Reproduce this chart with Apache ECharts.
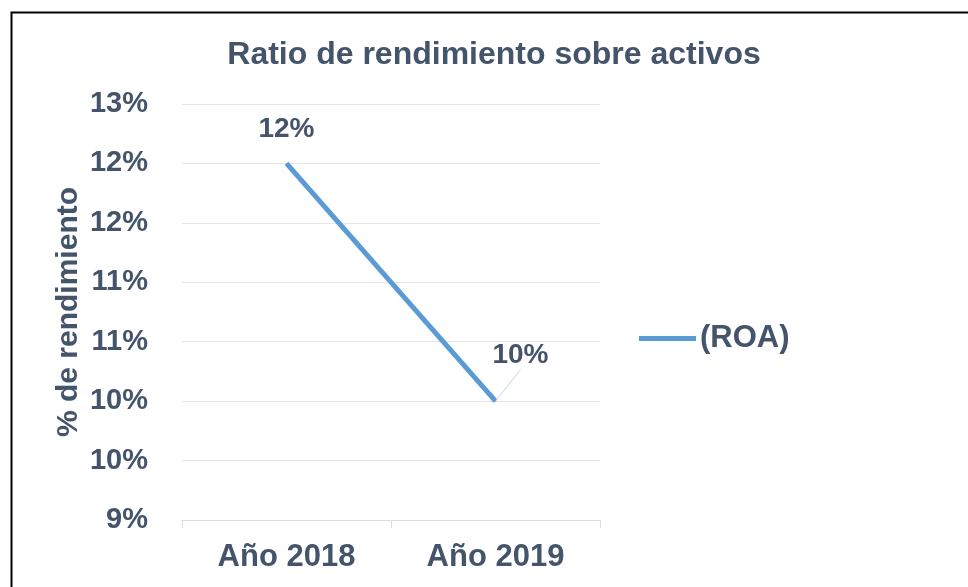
<!DOCTYPE html>
<html>
<head>
<meta charset="utf-8">
<script src="https://cdn.jsdelivr.net/npm/echarts@6/dist/echarts.min.js"></script>
<style>
html,body{margin:0;padding:0;background:#fff;}
#c{width:968px;height:587px;}
</style>
</head>
<body>
<div id="c"></div>
<script>
var titleText = 'Ratio de rendimiento sobre activos';
var categories = ['Año 2018', 'Año 2019'];
var seriesName = '(ROA)';
var roaValues = [0.12, 0.10];
var dataLabels = ['12%', '10%'];
var yMin = 0.09, yMax = 0.125, yStep = 0.005;
var yTickLabels = ['9%', '10%', '10%', '11%', '11%', '12%', '12%', '13%'];
var yAxisName = '% de rendimiento';

var textColor = '#44546a';
var font = 'Liberation Sans, Arial, sans-serif';

var seriesData = roaValues.map(function (v, i) {
  return {value: v, labelLine: {show: i === 1}};
});

var chart = echarts.init(document.getElementById('c'));
chart.setOption({
  animation: false,
  backgroundColor: '#fff',
  graphic: [{
    type: 'rect',
    left: 9, top: 10,
    shape: {width: 1000, height: 600},
    style: {fill: 'none', stroke: '#000', lineWidth: 2},
    silent: true, z: 100
  }],
  title: {
    text: titleText,
    left: 489, textAlign: 'center', top: 34,
    textStyle: {fontFamily: font, fontSize: 32, fontWeight: 'bold', color: textColor}
  },
  legend: {
    left: 634, top: 318,
    itemWidth: 57, itemHeight: 5, itemGap: 0,
    icon: 'rect',
    textStyle: {fontFamily: font, fontSize: 31, fontWeight: 'bold', color: textColor, padding: [0, 0, 0, -1]},
    data: [seriesName]
  },
  grid: {left: 182, right: 368, top: 104, bottom: 67, containLabel: false},
  xAxis: {
    type: 'category',
    data: categories,
    boundaryGap: true,
    axisLine: {lineStyle: {color: '#d9dee6', width: 1}},
    axisTick: {show: true, length: 8, lineStyle: {color: '#d9dee6'}},
    axisLabel: {margin: 22, fontFamily: font, fontSize: 31, fontWeight: 'bold', color: textColor}
  },
  yAxis: {
    type: 'value',
    min: yMin, max: yMax, interval: yStep,
    name: yAxisName,
    nameLocation: 'middle',
    nameGap: 98,
    nameRotate: 90,
    nameTextStyle: {fontFamily: font, fontSize: 30, fontWeight: 'bold', color: textColor},
    axisLine: {show: false},
    axisTick: {show: false},
    splitLine: {lineStyle: {color: '#e3e7ec', width: 1}},
    axisLabel: {
      margin: 34,
      fontFamily: font, fontSize: 29, fontWeight: 'bold', color: textColor,
      formatter: function (v) {
        var i = Math.round((v - yMin) / yStep);
        return yTickLabels[i] !== undefined ? yTickLabels[i] : '';
      }
    }
  },
  series: [{
    name: seriesName,
    type: 'line',
    data: seriesData,
    symbol: 'circle',
    symbolSize: 1,
    showSymbol: true,
    lineStyle: {color: '#5b9bd5', width: 5, cap: 'butt'},
    itemStyle: {color: '#5b9bd5'},
    label: {
      show: true,
      position: 'top',
      distance: 20,
      fontFamily: font, fontSize: 28, fontWeight: 'bold', color: textColor,
      formatter: function (p) { return dataLabels[p.dataIndex]; }
    },
    labelLine: {show: true, lineStyle: {color: '#c9d3de', width: 1}},
    labelLayout: function (p) {
      if (p.dataIndex === 1) return {dx: 25, dy: -11};
      return {};
    }
  }]
});
</script>
</body>
</html>
